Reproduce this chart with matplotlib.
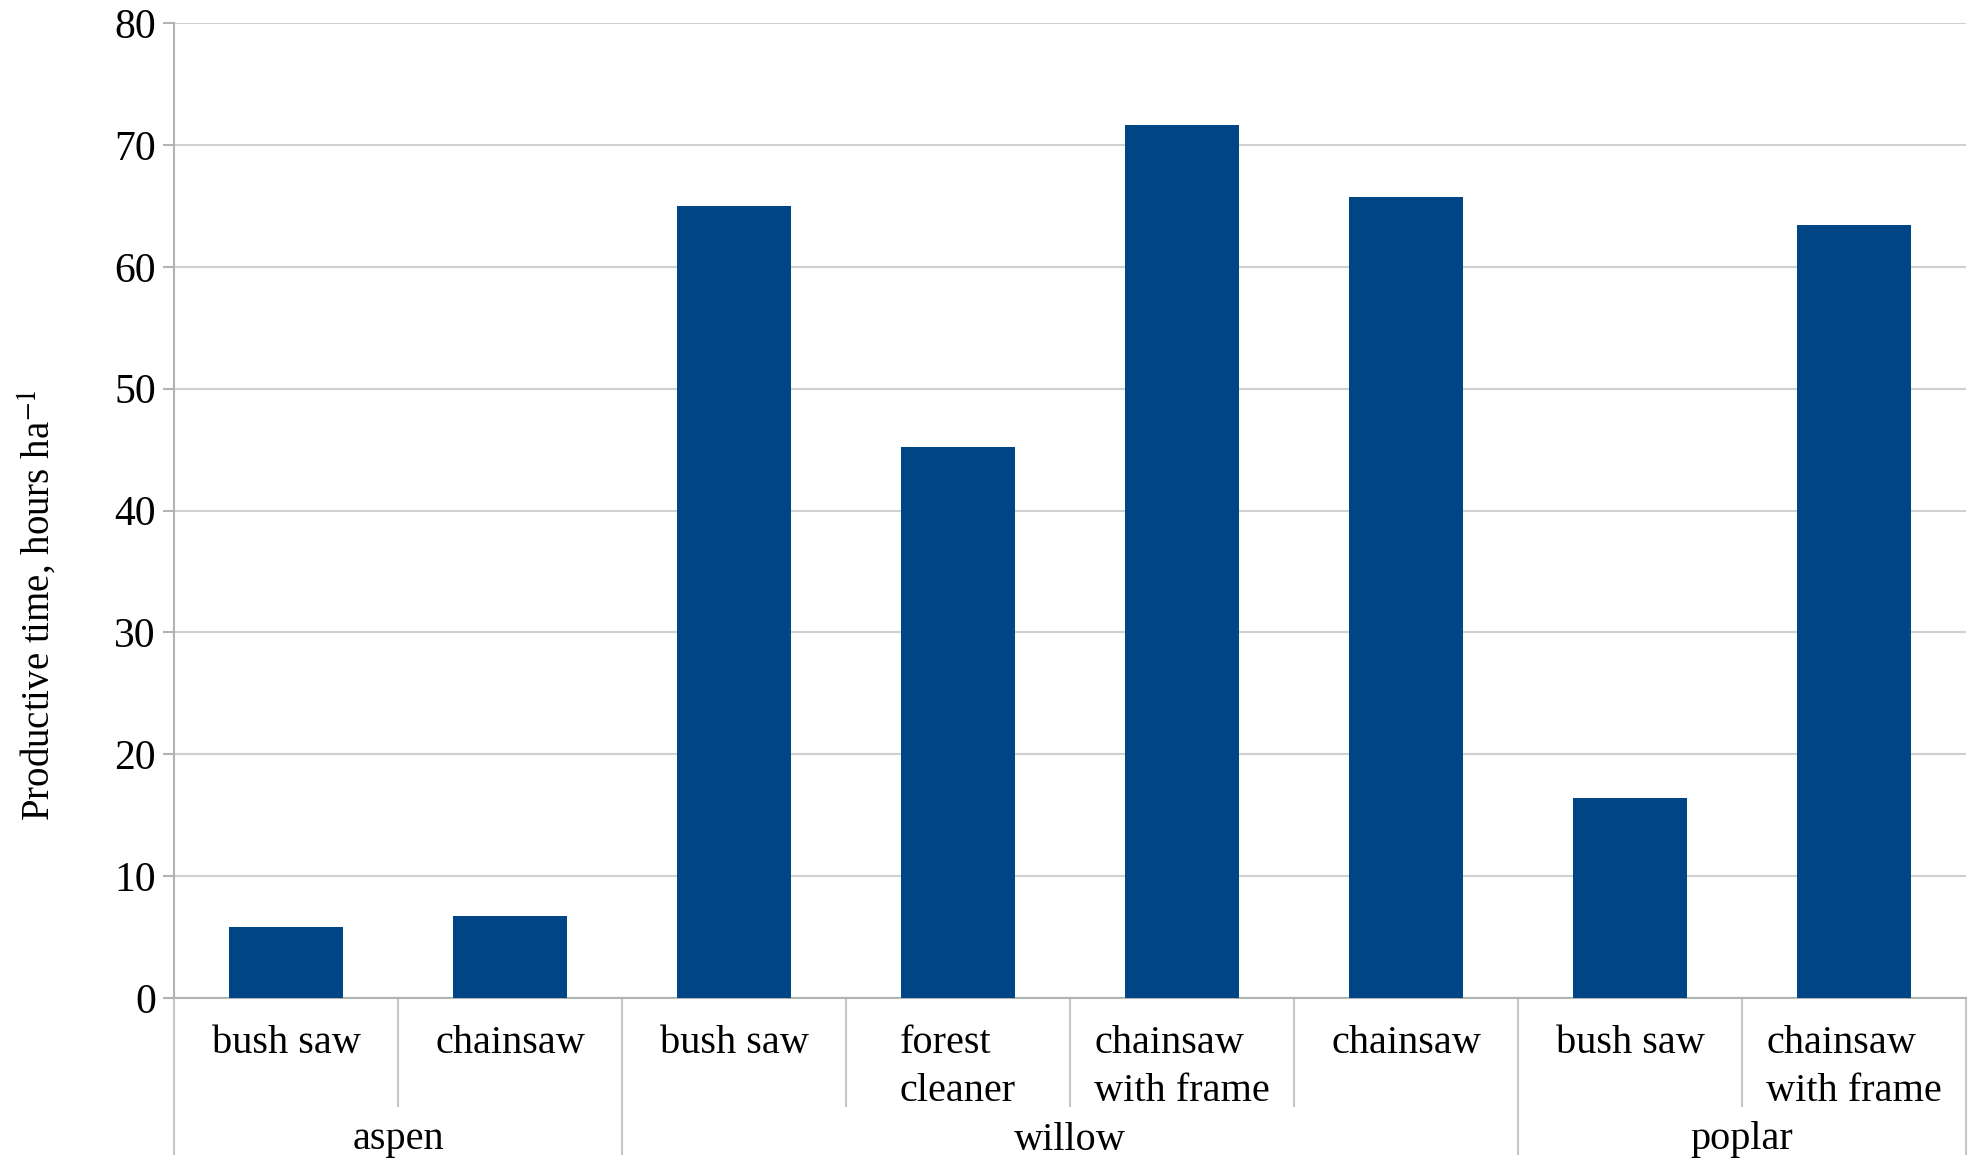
import numpy as np
import matplotlib.pyplot as plt

# datos
groups = ["aspen", "willow", "poplar"]
group_sizes = [2, 4, 2]
tools = ["bush saw", "chainsaw",
         "bush saw", "forest\ncleaner", "chainsaw\nwith frame", "chainsaw",
         "bush saw", "chainsaw\nwith frame"]
hours = [5.8, 6.7, 65.0, 45.2, 71.6, 65.7, 16.4, 63.4]

plt.rcParams['font.family'] = ['Liberation Serif', 'DejaVu Serif']
fs = 29
grid_col = "#b3b3b3"

fig = plt.figure(figsize=(19.71, 11.6), dpi=100)
ax = fig.add_axes([174 / 1971, 1 - 998 / 1160, 1792 / 1971, 975 / 1160])

x = np.arange(len(hours))
ax.bar(x, hours, width=0.505, color="#004586", zorder=3)

ax.set_xlim(-0.5, len(hours) - 0.5)
ax.set_ylim(0, 80)
ax.set_yticks(np.arange(0, 81, 10))
ax.tick_params(axis='y', labelsize=30, length=8, color=grid_col, width=1.5, pad=5)
ax.yaxis.grid(True, color="#d0d0d0", linewidth=1.5, zorder=0)
ax.set_xticks([])
for s in ["top", "right"]:
    ax.spines[s].set_visible(False)
for s in ["left", "bottom"]:
    ax.spines[s].set_color(grid_col)
    ax.spines[s].set_linewidth(1.5)

# etiqueta del eje y (centrada un poco mas abajo, como en el original)
ylab = fig.text(38 / 1971, 1 - 605 / 1160, "Productive time, hours ha$^{-1}$",
                rotation=90, ha='center', va='center', fontsize=28)
ylab.set_math_fontfamily('stix')

# etiquetas de categorias en dos niveles
ph = 975.0  # alto del eje en pixeles
def ay(py):
    return (998 - py) / ph

tr = ax.get_xaxis_transform()
for i, t in enumerate(tools):
    ax.text(x[i], ay(1025), t, transform=tr, ha='center', va='top',
            multialignment='left', fontsize=fs, linespacing=1.4)

bounds = np.cumsum([0] + group_sizes) - 0.5
for b in bounds:
    ax.plot([b, b], [0, ay(1154)], transform=tr, color="#c8c8c8",
            linewidth=1.5, clip_on=False)
start = 0
for g, n in zip(groups, group_sizes):
    for k in range(start + 1, start + n):
        ax.plot([k - 0.5, k - 0.5], [0, ay(1106)], transform=tr,
                color="#c8c8c8", linewidth=1.5, clip_on=False)
    ax.text(start + (n - 1) / 2, ay(1140), g, transform=tr, ha='center',
            va='center', fontsize=fs)
    start += n

fig.savefig("out.png", dpi=100)
